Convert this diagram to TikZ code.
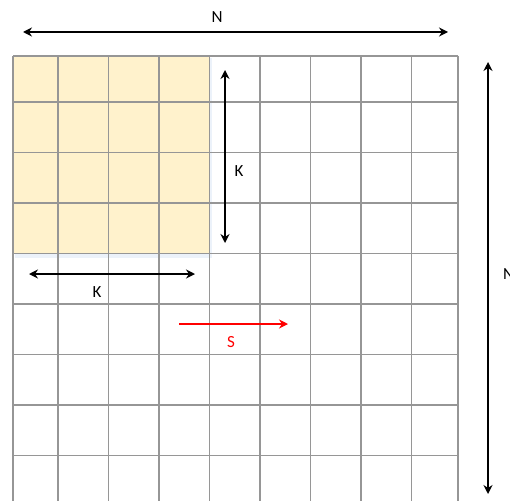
\documentclass[tikz,border=0pt]{standalone}
\usepackage{fontspec}
\setmainfont{Carlito}
\usetikzlibrary{arrows.meta}
\definecolor{gridGray}{RGB}{150,150,150}
\definecolor{winYellow}{RGB}{255,242,204}
\definecolor{winShadow}{RGB}{236,242,250}
\tikzset{
	gline/.style={draw=gridGray, line width=1.5pt},
	dimarr/.style={{Stealth[length=9pt,width=9pt]}-{Stealth[length=9pt,width=9pt]}, line width=1.6pt, black},
	dimlbl/.style={font=\fontsize{17}{17}\selectfont, inner sep=0pt},
	strarr/.style={-{Stealth[length=9pt,width=9pt]}, line width=1.3pt, red}
}

\begin{document}
\begin{tikzpicture}[x=1pt, y=-1pt]
	\useasboundingbox (0,0) rectangle (510,500);
	% window of K x K cells
	\fill[winShadow] (15,58) rectangle (212,258);
	\fill[winYellow] (13,56) rectangle (210,254);
	% N x N grid
	\foreach \x in {13,58,108.5,159,209.5,260,310.5,361,411.5,458}
		\draw[gline] (\x,56) -- (\x,512);
	\foreach \y in {56,102,152.5,203,253.5,304,354.5,405,455.5,506}
		\draw[gline] (13,\y) -- (458,\y);
	% ends of the arrows
	\coordinate (nTopL) at (23,32);
	\coordinate (nTopR) at (448,32);
	\coordinate (nSideT) at (488,62);
	\coordinate (nSideB) at (488,494);
	\coordinate (kVertT) at (225,70);
	\coordinate (kVertB) at (225,243);
	\coordinate (kHorL) at (29,274);
	\coordinate (kHorR) at (195,274);
	\coordinate (sFrom) at (179,324);
	\coordinate (sTo) at (288,324);
	% labels
	\node[dimlbl] (nTop) at (217,17) {N};
	\node[dimlbl, anchor=west] (nSide) at (503,274) {N};
	\node[dimlbl] (kVert) at (239,171) {K};
	\node[dimlbl] (kHor) at (97,292) {K};
	\node[dimlbl, red] (sLbl) at (231,342) {S};
	\draw[dimarr] (nTopL) -- (nTopR);
	\draw[dimarr] (nSideT) -- (nSideB);
	\draw[dimarr] (kVertT) -- (kVertB);
	\draw[dimarr] (kHorL) -- (kHorR);
	\draw[strarr] (sFrom) -- (sTo);
\end{tikzpicture}
\end{document}
